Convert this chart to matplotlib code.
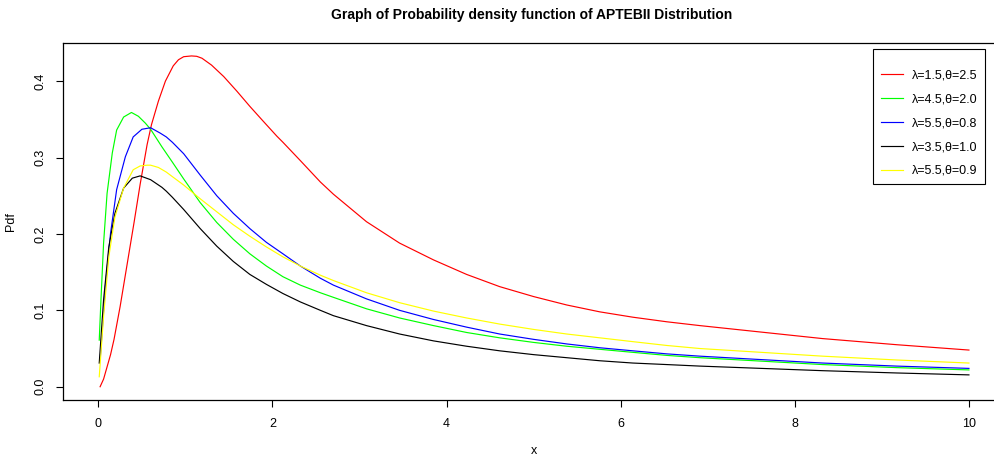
import matplotlib
matplotlib.use('Agg')
import matplotlib.pyplot as plt

plt.rcParams['font.family'] = ['Liberation Sans', 'DejaVu Sans']

# values
red_x = [0.02, 0.06, 0.10, 0.14, 0.18, 0.25, 0.33, 0.41, 0.48, 0.56, 0.61, 0.69, 0.77, 0.86,
         0.92, 0.98, 1.07, 1.13, 1.19, 1.30, 1.44, 1.59, 1.74, 1.89, 2.05, 2.12, 2.32, 2.55,
         2.70, 3.08, 3.46, 3.85, 4.23, 4.61, 5.00, 5.38, 5.76, 6.14, 6.53, 6.91, 8.32, 9.17, 10.0]
red_y = [0.0, 0.010, 0.026, 0.042, 0.062, 0.105, 0.160, 0.215, 0.265, 0.317, 0.343, 0.374, 0.400, 0.420,
         0.428, 0.432, 0.433, 0.4325, 0.430, 0.421, 0.406, 0.387, 0.367, 0.348, 0.328, 0.320, 0.296, 0.268,
         0.252, 0.216, 0.188, 0.166, 0.147, 0.131, 0.118, 0.107, 0.098, 0.091, 0.085, 0.080, 0.063, 0.055, 0.048]

green_x = [0.01, 0.03, 0.06, 0.10, 0.16, 0.21, 0.29, 0.38, 0.46, 0.54, 0.60, 0.73, 0.85, 0.98,
           1.17, 1.36, 1.55, 1.74, 1.93, 2.12, 2.32, 2.55, 2.70, 3.08, 3.46, 3.85, 4.23, 4.61,
           5.00, 5.38, 5.76, 6.14, 6.53, 6.91, 8.32, 9.17, 10.0]
green_y = [0.061, 0.114, 0.188, 0.253, 0.306, 0.336, 0.353, 0.359, 0.354, 0.345, 0.337, 0.314, 0.294, 0.272,
           0.241, 0.215, 0.193, 0.174, 0.158, 0.144, 0.133, 0.123, 0.117, 0.102, 0.090, 0.080, 0.071, 0.064,
           0.058, 0.053, 0.049, 0.045, 0.041, 0.038, 0.029, 0.025, 0.022]

blue_x = [0.02, 0.08, 0.14, 0.21, 0.31, 0.40, 0.50, 0.60, 0.71, 0.78, 0.85, 0.98, 1.17, 1.36,
          1.55, 1.74, 1.93, 2.12, 2.32, 2.55, 2.70, 3.08, 3.46, 3.85, 4.23, 4.61, 5.00, 5.38,
          5.76, 6.14, 6.53, 6.91, 8.32, 9.17, 10.0]
blue_y = [0.035, 0.131, 0.201, 0.258, 0.301, 0.327, 0.337, 0.339, 0.332, 0.327, 0.320, 0.305, 0.277, 0.250,
          0.227, 0.207, 0.189, 0.174, 0.158, 0.142, 0.133, 0.115, 0.100, 0.088, 0.078, 0.069, 0.062, 0.056,
          0.051, 0.047, 0.043, 0.040, 0.031, 0.027, 0.024]

black_x = [0.01, 0.06, 0.12, 0.19, 0.29, 0.39, 0.48, 0.60, 0.73, 0.78, 0.85, 0.98, 1.17, 1.36,
           1.55, 1.74, 1.93, 2.12, 2.32, 2.55, 2.70, 3.08, 3.46, 3.85, 4.23, 4.61, 5.00, 5.38,
           5.76, 6.14, 6.53, 6.91, 8.32, 9.17, 10.0]
black_y = [0.031, 0.114, 0.183, 0.227, 0.260, 0.273, 0.276, 0.271, 0.261, 0.256, 0.248, 0.232, 0.207, 0.184,
           0.164, 0.147, 0.134, 0.122, 0.111, 0.100, 0.093, 0.080, 0.069, 0.060, 0.053, 0.047, 0.042, 0.038,
           0.034, 0.031, 0.029, 0.027, 0.021, 0.018, 0.0155]

yellow_x = [0.01, 0.06, 0.12, 0.19, 0.29, 0.40, 0.48, 0.56, 0.60, 0.69, 0.78, 0.85, 0.98, 1.17,
            1.36, 1.55, 1.74, 1.93, 2.12, 2.32, 2.55, 2.70, 3.08, 3.46, 3.85, 4.23, 4.61, 5.00,
            5.38, 5.76, 6.14, 6.53, 6.91, 8.32, 9.17, 10.0]
yellow_y = [0.013, 0.092, 0.170, 0.222, 0.260, 0.284, 0.289, 0.290, 0.290, 0.287, 0.281, 0.275, 0.264, 0.246,
            0.229, 0.212, 0.197, 0.183, 0.170, 0.158, 0.146, 0.139, 0.123, 0.110, 0.099, 0.090, 0.082, 0.075,
            0.069, 0.064, 0.059, 0.054, 0.050, 0.040, 0.035, 0.031]

labels = ['λ=1.5,θ=2.5', 'λ=4.5,θ=2.0', 'λ=5.5,θ=0.8', 'λ=3.5,θ=1.0', 'λ=5.5,θ=0.9']
colors = ['#ff0000', '#00ff00', '#0000ff', '#000000', '#ffff00']
x_ticks = [0, 2, 4, 6, 8, 10]
y_ticks = [0.0, 0.1, 0.2, 0.3, 0.4]

fig = plt.figure(figsize=(9.95, 4.59), dpi=100)
ax = fig.add_axes([0.0636, 0.1285, 0.9452, 0.7771])

series = [(red_x, red_y), (green_x, green_y), (blue_x, blue_y),
          (black_x, black_y), (yellow_x, yellow_y)]
for (xs, ys), c, lab in zip(series, colors, labels):
    ax.plot(xs, ys, color=c, linewidth=0.85, label=lab)

ax.set_xlim(-0.403, 10.4)
ax.set_ylim(-0.0174, 0.4495)
ax.set_xticks(x_ticks)
ax.set_xticklabels([str(t) for t in x_ticks])
ax.set_yticks(y_ticks)
ax.set_yticklabels(['%.1f' % t for t in y_ticks], rotation=90, va='center')
ax.tick_params(direction='out', length=5, width=0.8, labelsize=9)
ax.tick_params(axis='x', pad=8)
ax.tick_params(axis='y', pad=7)
for s in ax.spines.values():
    s.set_linewidth(0.9)
ax.spines['right'].set_visible(False)  # R plot region runs past the image edge

ax.set_xlabel('x', fontsize=9, labelpad=11)
ax.set_ylabel('Pdf', fontsize=9, labelpad=13)
fig.text(0.534, 0.968, 'Graph of Probability density function of APTEBII Distribution',
         ha='center', va='center', fontsize=10, fontweight='bold')

leg = ax.legend(loc='upper right', bbox_to_anchor=(0.980, 0.984), borderaxespad=0,
                title=' ', title_fontsize=1,
                fontsize=9, frameon=True, fancybox=False, framealpha=1,
                edgecolor='black', handlelength=1.76, handletextpad=0.72,
                labelspacing=0.95, borderpad=0.6)
leg.get_frame().set_linewidth(0.8)

fig.savefig('out.png', dpi=100)
